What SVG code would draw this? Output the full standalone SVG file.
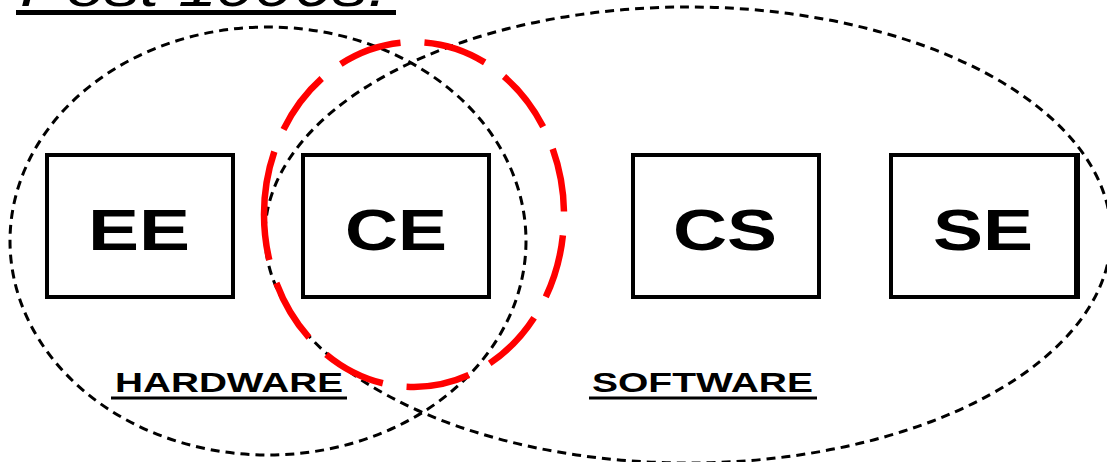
<svg xmlns="http://www.w3.org/2000/svg" width="1107" height="462" viewBox="0 0 1107 462">
  <style>
    .box { fill: #ffffff; stroke: #000000; stroke-width: 4; }
    .lbl { font-family: "Liberation Sans", Arial, sans-serif; font-weight: bold; font-size: 58px; fill: #000000; }
    .area { font-family: "Liberation Sans", Arial, sans-serif; font-weight: bold; font-size: 28px; fill: #000000; }
    .dash { fill: none; stroke: #000000; stroke-width: 3; stroke-dasharray: 9 6; }
    .red { fill: none; stroke: #ff0000; stroke-width: 6.5; stroke-dasharray: 64 24; }
  </style>
  <rect width="1107" height="462" fill="#ffffff"/>

  <g id="title">
    <text x="20" y="6" font-family="Liberation Sans, Arial, sans-serif" font-style="italic" font-size="54" textLength="367" lengthAdjust="spacingAndGlyphs" fill="#000">Post 1990s:</text>
    <line x1="16" y1="12.5" x2="396" y2="12.5" stroke="#000" stroke-width="5"/>
  </g>

  <g id="connectors">
    <ellipse id="hardware-area" class="dash" cx="268" cy="241" rx="258" ry="214"/>
    <ellipse id="software-area" class="dash" cx="688" cy="235" rx="423" ry="228"/>
  </g>

  <g id="node-ee">
    <rect class="box" x="47" y="155" width="186" height="142"/>
    <text class="lbl" x="88" y="250" textLength="102" lengthAdjust="spacingAndGlyphs">EE</text>
  </g>
  <g id="node-ce">
    <rect class="box" x="303" y="155" width="186" height="142"/>
    <text class="lbl" x="345" y="250" textLength="102" lengthAdjust="spacingAndGlyphs">CE</text>
  </g>
  <g id="node-cs">
    <rect class="box" x="633" y="155" width="186" height="142"/>
    <text class="lbl" x="673" y="250" textLength="104" lengthAdjust="spacingAndGlyphs">CS</text>
  </g>
  <g id="node-se">
    <rect class="box" x="891" y="155" width="186" height="142"/>
    <line x1="1077" y1="153" x2="1077" y2="299" stroke="#000" stroke-width="6"/>
    <text class="lbl" x="933" y="250" textLength="100" lengthAdjust="spacingAndGlyphs">SE</text>
  </g>

  <g id="label-hardware">
    <text class="area" x="115" y="392" textLength="228" lengthAdjust="spacingAndGlyphs">HARDWARE</text>
    <line x1="111" y1="398" x2="347" y2="398" stroke="#000" stroke-width="3"/>
  </g>
  <g id="label-software">
    <text class="area" x="592" y="392" textLength="221" lengthAdjust="spacingAndGlyphs">SOFTWARE</text>
    <line x1="589" y1="398" x2="817" y2="398" stroke="#000" stroke-width="3"/>
  </g>

  <g id="ce-highlight">
    <path class="red" d="M 264 214.5 A 150 172.5 0 1 1 564 214.5 A 150 172.5 0 1 1 264 214.5"/>
  </g>
</svg>
